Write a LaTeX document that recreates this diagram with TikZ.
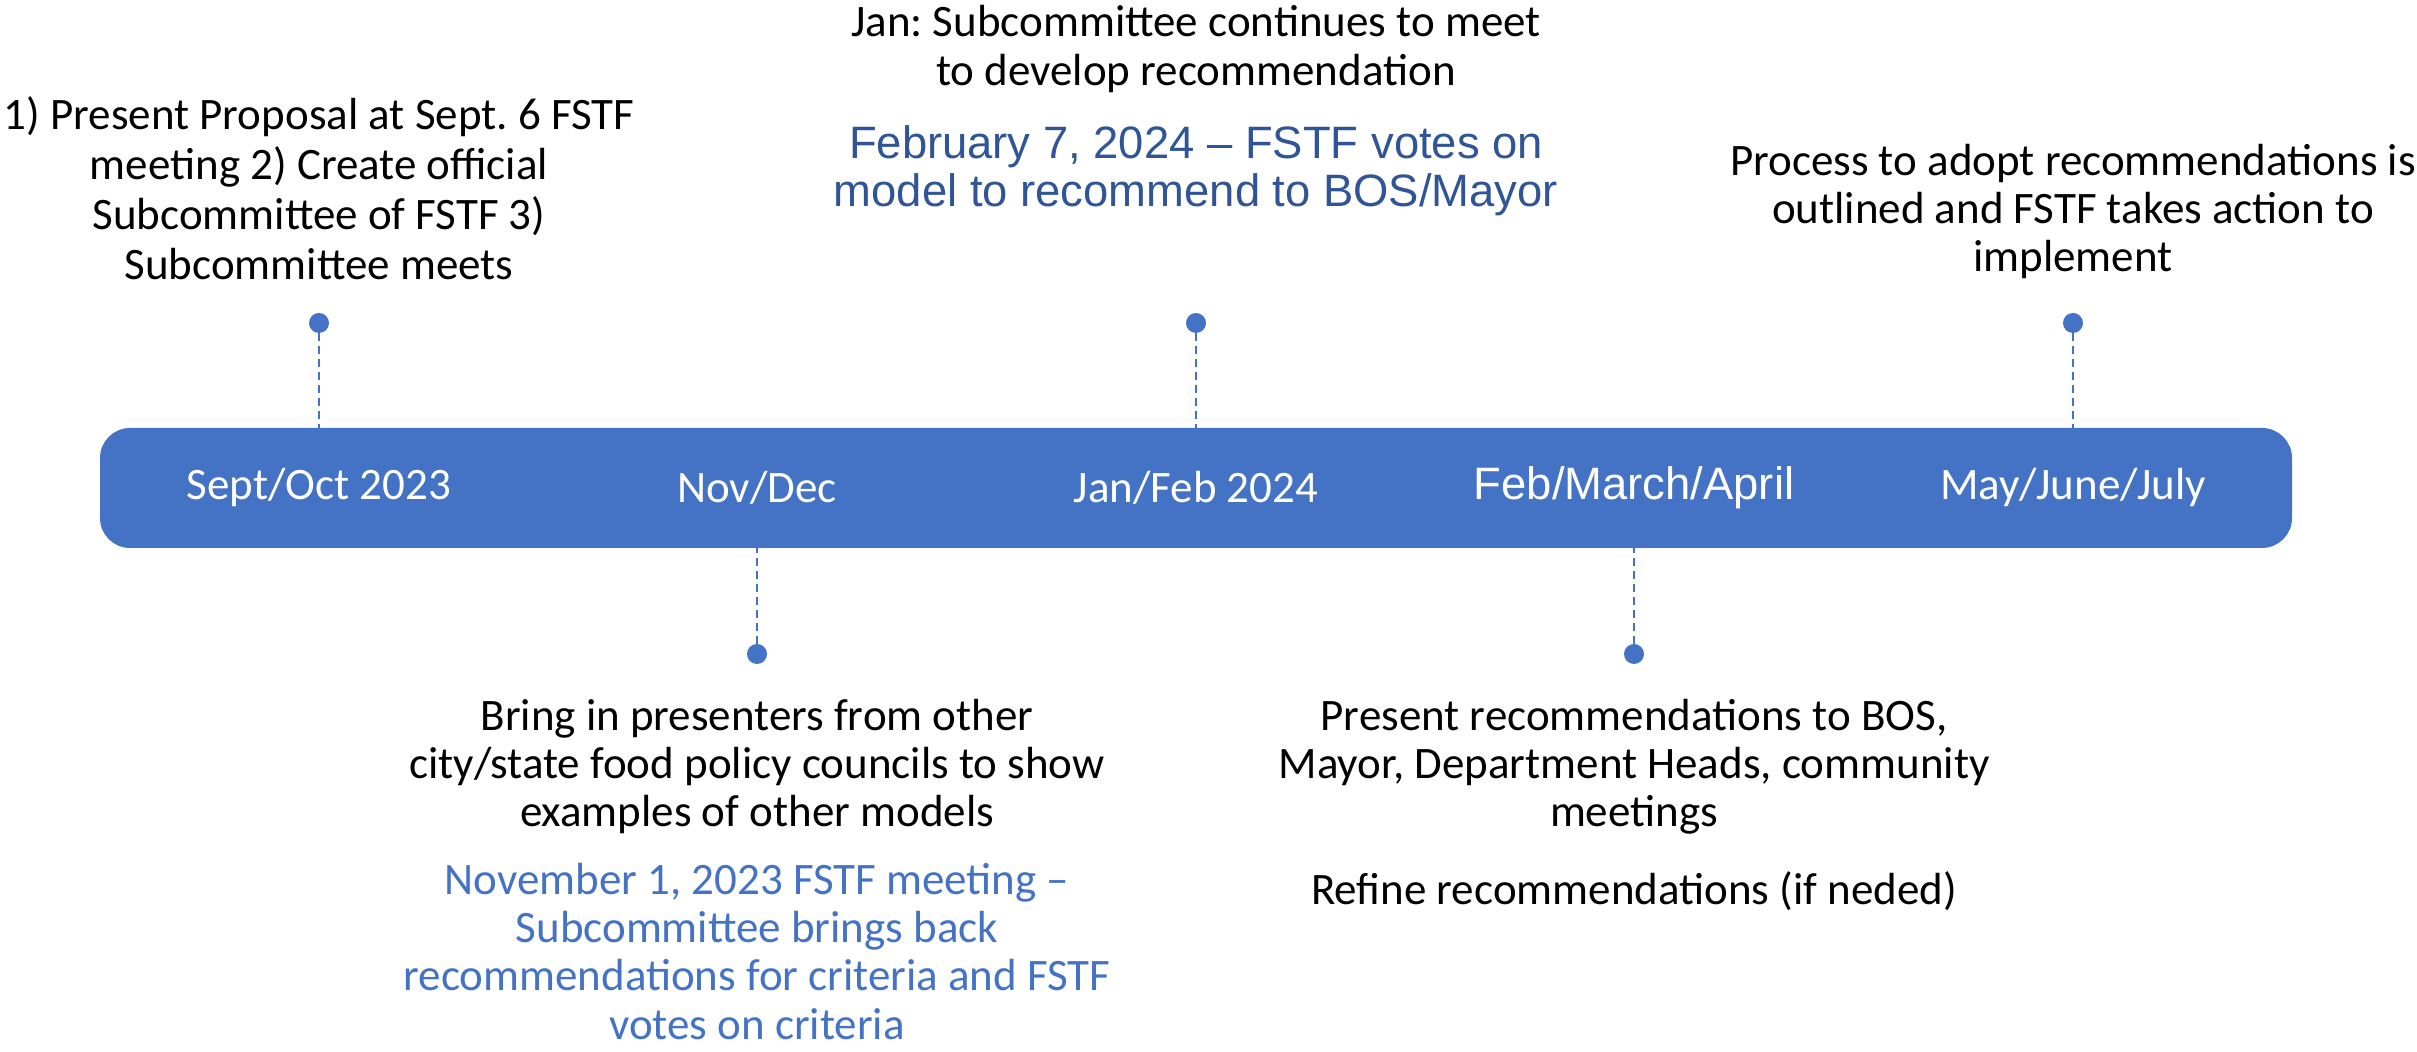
\documentclass[tikz,border=0pt]{standalone}
\usepackage{fontspec}
\setmainfont{Carlito}
\newfontfamily\arial{Liberation Sans}
\usetikzlibrary{positioning}
\frenchspacing
\definecolor{barblue}{HTML}{4472C4}
\definecolor{darkblue}{HTML}{2F5597}
\tikzset{
  event/.style={align=center, inner sep=0pt, font=\fontsize{22.5}{24.2}\selectfont},
  pin/.style={circle, fill=barblue, inner sep=0pt, minimum size=10pt},
  stem/.style={barblue, line width=0.7pt, dash pattern=on 4pt off 2.5pt},
  month/.style={text=white, inner sep=0pt, font=\fontsize{22.5}{24}\selectfont}
}
\begin{document}
\begin{tikzpicture}[x=0.5pt, y=-0.5pt]
    \useasboundingbox (0,0) rectangle (2417,1052);
    % the bar, five equal parts of 438.4
    \node[fill=barblue, rounded corners=15pt, minimum width=1096pt, minimum height=60pt,
          inner sep=0pt] (bar) at (1196,488) {};
    \node[month] (m1) at (319,488) {Sept/Oct 2023};
    \node[month] (m2) at (757,488) {Nov/Dec};
    \node[month] (m3) at (1196,488) {Jan/Feb 2024};
    \node[month, font=\arial\fontsize{22.7}{24}\selectfont] (m4) at (1634,488) {Feb/March/April};
    \node[month] (m5) at (2073,488) {May/June/July};
    % pins above for 1,3,5 and below for 2,4
    \foreach \n in {1,3,5}{
        \node[pin] (p\n) at (m\n |- 0,323) {};
        \draw[stem] (p\n) -- (p\n |- bar.north);
    }
    \foreach \n in {2,4}{
        \node[pin] (p\n) at (m\n |- 0,654) {};
        \draw[stem] (p\n) -- (p\n |- bar.south);
    }
    \node[event, above=16pt of p1, font=\fontsize{22.5}{25}\selectfont] (t1) {1) Present Proposal at Sept. 6 FSTF\\
        meeting 2) Create official\\ Subcommittee of FSTF 3)\\ Subcommittee meets};
    \node[event, anchor=north] (t3) at (1196,5) {Jan: Subcommittee continues to meet\\ to develop recommendation};
    \node[event, below=16.5pt of t3, text=darkblue, font=\arial\fontsize{22.7}{24}\selectfont] (t3v)
        {February 7, 2024 – FSTF votes on\\ model to recommend to BOS/Mayor};
    \node[event, above=16.5pt of p5] (t5) {Process to adopt recommendations is\\ outlined and FSTF takes action to\\ implement};
    \node[event, below=17pt of p2] (b2) {Bring in presenters from other\\ city/state food policy councils to show\\
        examples of other models};
    \node[event, below=14pt of b2, text=barblue] (b2v) {November 1, 2023 FSTF meeting –\\ Subcommittee brings back\\
        recommendations for criteria and FSTF\\ votes on criteria};
    \node[event, below=17pt of p4] (b4) {Present recommendations to BOS,\\ Mayor, Department Heads, community\\ meetings};
    \node[event, below=18pt of b4] (b4v) {Refine recommendations (if neded)};
\end{tikzpicture}
\end{document}
